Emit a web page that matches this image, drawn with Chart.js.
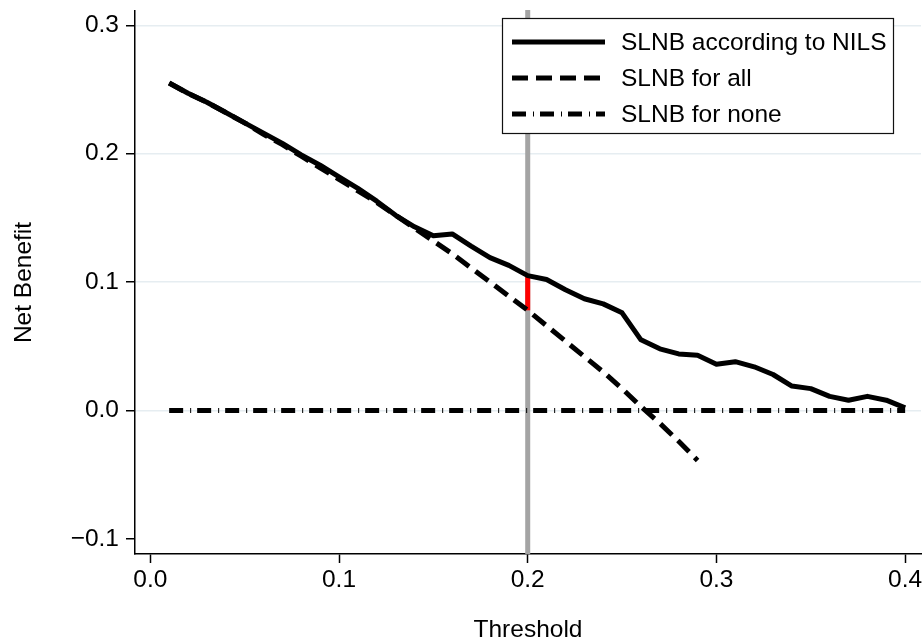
<!DOCTYPE html>
<html>
<head>
<meta charset="utf-8">
<title>Net benefit</title>
<script src="https://cdn.jsdelivr.net/npm/chart.js@4.4.1/dist/chart.umd.min.js"></script>
<style>
  html, body { margin: 0; padding: 0; background: #fff; }
  canvas { display: block; }
</style>
</head>
<body>
<canvas id="chart" width="924" height="642"></canvas>
<script>
// threshold probabilities (x) and net benefit curves
const thresholds = [
  0.01, 0.02, 0.03, 0.04, 0.05, 0.06, 0.07, 0.08, 0.09, 0.10,
  0.11, 0.12, 0.13, 0.14, 0.15, 0.16, 0.17, 0.18, 0.19, 0.20,
  0.21, 0.22, 0.23, 0.24, 0.25, 0.26, 0.27, 0.28, 0.29, 0.30,
  0.31, 0.32, 0.33, 0.34, 0.35, 0.36, 0.37, 0.38, 0.39, 0.40
];
const nilsBenefit = [
  0.255, 0.247, 0.240, 0.232, 0.224, 0.216, 0.208, 0.199, 0.191, 0.182,
  0.173, 0.163, 0.152, 0.143, 0.136, 0.1375, 0.128, 0.119, 0.113, 0.105,
  0.102, 0.094, 0.087, 0.083, 0.076, 0.055, 0.048, 0.044, 0.043, 0.036,
  0.038, 0.034, 0.028, 0.019, 0.017, 0.011, 0.008, 0.011, 0.008, 0.002
];
// "all" curve stops at 0.29
const allBenefit = [
  0.255, 0.247, 0.240, 0.232, 0.224, 0.215, 0.207, 0.198, 0.189, 0.180,
  0.171, 0.162, 0.152, 0.142, 0.132, 0.122, 0.111, 0.100, 0.089, 0.078,
  0.066, 0.054, 0.042, 0.030, 0.017, 0.003, -0.010, -0.024, -0.039
];
const noneBenefit = [
  0, 0, 0, 0, 0, 0, 0, 0, 0, 0,
  0, 0, 0, 0, 0, 0, 0, 0, 0, 0,
  0, 0, 0, 0, 0, 0, 0, 0, 0, 0,
  0, 0, 0, 0, 0, 0, 0, 0, 0, 0
];
const chosenThreshold = 0.2;

const xTicks = [0, 0.1, 0.2, 0.3, 0.4];
const xTickLabels = ["0.0", "0.1", "0.2", "0.3", "0.4"];
const yTicks = [-0.1, 0, 0.1, 0.2, 0.3];
const yTickLabels = ["\u22120.1", "0.0", "0.1", "0.2", "0.3"];

const FONT = "'Liberation Sans', Arial, Helvetica, sans-serif";

function toPoints(xs, ys) {
  return ys.map((y, i) => ({ x: xs[i], y: y }));
}

const idx = thresholds.indexOf(chosenThreshold);
const gapPoints = [
  { x: chosenThreshold, y: allBenefit[idx] },
  { x: chosenThreshold, y: nilsBenefit[idx] }
];

// grey vertical line at the chosen threshold, under the curves
const refLine = {
  id: "refLine",
  beforeDatasetsDraw(chart) {
    const { ctx, chartArea, scales } = chart;
    const x = scales.x.getPixelForValue(chosenThreshold);
    ctx.save();
    ctx.strokeStyle = "#a4a4a4";
    ctx.lineWidth = 5;
    ctx.beginPath();
    ctx.moveTo(x, chartArea.top - 1);
    ctx.lineTo(x, chartArea.bottom);
    ctx.stroke();
    ctx.restore();
  }
};

// boxed legend in the top right corner
const boxLegend = {
  id: "boxLegend",
  afterDraw(chart) {
    const ctx = chart.ctx;
    const items = chart.data.datasets.filter(d => d.inLegend);
    const left = 502, top = 18, w = 391, h = 115;
    ctx.save();
    ctx.fillStyle = "#fff";
    ctx.fillRect(left, top, w, h);
    ctx.strokeStyle = "#111";
    ctx.lineWidth = 1.2;
    ctx.strokeRect(left + 0.5, top + 0.5, w, h);
    ctx.font = "24.5px " + FONT;
    ctx.textBaseline = "middle";
    ctx.textAlign = "left";
    items.forEach((d, i) => {
      const y = top + 24 + i * 36;
      ctx.strokeStyle = d.borderColor;
      ctx.lineWidth = d.borderWidth;
      ctx.setLineDash(d.borderDash || []);
      ctx.beginPath();
      ctx.moveTo(512, y);
      ctx.lineTo(605, y);
      ctx.stroke();
      ctx.setLineDash([]);
      ctx.fillStyle = "#000";
      ctx.fillText(d.label, 621, y + 1);
    });
    ctx.restore();
  }
};

new Chart(document.getElementById("chart"), {
  type: "line",
  data: {
    datasets: [
      {
        label: "SLNB according to NILS",
        inLegend: true,
        data: toPoints(thresholds, nilsBenefit),
        borderColor: "#000",
        borderWidth: 5,
        borderJoinStyle: "round",
        pointRadius: 0,
        order: 0
      },
      {
        label: "SLNB for all",
        inLegend: true,
        data: toPoints(thresholds, allBenefit),
        borderColor: "#000",
        borderWidth: 5,
        borderDash: [16, 8],
        pointRadius: 0,
        order: 1
      },
      {
        label: "SLNB for none",
        inLegend: true,
        data: toPoints(thresholds, noneBenefit),
        borderColor: "#000",
        borderWidth: 5,
        borderDash: [14, 7, 1, 6],
        pointRadius: 0,
        order: 2
      },
      {
        label: "gap",
        inLegend: false,
        data: gapPoints,
        borderColor: "#ff0000",
        borderWidth: 5,
        pointRadius: 0,
        order: 3
      }
    ]
  },
  options: {
    responsive: false,
    animation: false,
    devicePixelRatio: 1,
    layout: { padding: { top: 11, right: 3, left: 0, bottom: 0 } },
    plugins: {
      legend: { display: false },
      tooltip: { enabled: false }
    },
    scales: {
      x: {
        type: "linear",
        min: -0.0081,
        max: 0.4084,
        afterFit(scale) {
          scale.height = 88;
          scale.paddingLeft = 0;
          scale.paddingRight = 0;
        },
        afterBuildTicks(scale) { scale.ticks = xTicks.map(v => ({ value: v })); },
        border: { display: true, color: "#000", width: 1.5 },
        grid: { drawOnChartArea: false, drawTicks: true, tickLength: 9, tickColor: "#000", tickWidth: 1.5 },
        ticks: {
          color: "#000",
          padding: 3,
          font: { family: FONT, size: 24.5 },
          maxRotation: 0,
          callback: v => xTickLabels[xTicks.indexOf(v)]
        },
        title: {
          display: true,
          text: "Threshold",
          color: "#000",
          font: { family: FONT, size: 24.5, lineHeight: 1 },
          padding: { top: 0, bottom: 0 }
        }
      },
      y: {
        type: "linear",
        min: -0.1118,
        max: 0.3111,
        afterFit(scale) {
          scale.width = 135;
          scale.paddingTop = 0;
          scale.paddingBottom = 0;
        },
        afterBuildTicks(scale) { scale.ticks = yTicks.map(v => ({ value: v })); },
        border: { display: true, color: "#000", width: 1.5 },
        grid: {
          color: ctx => (ctx.tick && ctx.tick.value < -0.05 ? "rgba(0,0,0,0)" : "#e6edf1"),
          lineWidth: 1.5,
          drawTicks: true,
          tickLength: 9,
          tickColor: "#000",
          tickWidth: 1.5
        },
        ticks: {
          color: "#000",
          padding: 7,
          font: { family: FONT, size: 24.5 },
          callback: v => yTickLabels[yTicks.indexOf(v)]
        },
        title: {
          display: true,
          text: "Net Benefit",
          color: "#000",
          font: { family: FONT, size: 24.5, lineHeight: 1 },
          padding: { top: 12, bottom: 0 }
        }
      }
    }
  },
  plugins: [refLine, boxLegend]
});
</script>
</body>
</html>
